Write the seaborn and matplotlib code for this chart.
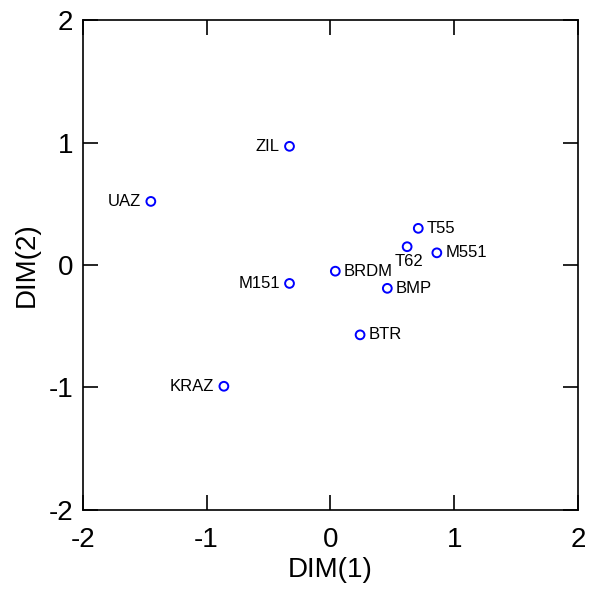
import matplotlib
matplotlib.use('Agg')
import matplotlib.pyplot as plt
import seaborn as sns
import pandas as pd

# 차량 좌표 (DIM1, DIM2)
names = ['ZIL', 'UAZ', 'T55', 'T62', 'M551', 'BRDM', 'M151', 'BMP', 'BTR', 'KRAZ']
dim1 = [-0.33, -1.45, 0.71, 0.62, 0.86, 0.04, -0.33, 0.46, 0.24, -0.86]
dim2 = [0.97, 0.52, 0.30, 0.15, 0.10, -0.05, -0.15, -0.19, -0.57, -0.99]
# 라벨 위치: r=오른쪽, l=왼쪽, b=아래
side = ['l', 'l', 'r', 'b', 'r', 'r', 'l', 'r', 'r', 'l']

ticks = [-2, -1, 0, 1, 2]

df = pd.DataFrame({'name': names, 'DIM(1)': dim1, 'DIM(2)': dim2, 'side': side})

sns.set_style('white')
plt.rcParams['font.family'] = ['Liberation Sans', 'DejaVu Sans']
plt.rcParams['text.color'] = 'black'
plt.rcParams['axes.labelcolor'] = 'black'
plt.rcParams['xtick.color'] = 'black'
plt.rcParams['ytick.color'] = 'black'

fig = plt.figure(figsize=(5.91, 5.95), dpi=100)
ax = fig.add_axes([0.14, 0.143, 0.838, 0.823])

sns.scatterplot(data=df, x='DIM(1)', y='DIM(2)', ax=ax, marker='o',
                facecolor='none', edgecolor='#0000ff', linewidth=1.4, s=40)

for _, r in df.iterrows():
    if r['side'] == 'r':
        off, ha, va = (6, 0), 'left', 'center'
    elif r['side'] == 'l':
        off, ha, va = (-7, 0), 'right', 'center'
    else:
        off, ha, va = (1, -5), 'center', 'top'
    ax.annotate(r['name'], (r['DIM(1)'], r['DIM(2)']), xytext=off,
                textcoords='offset points', ha=ha, va=va, fontsize=12, color='black')

ax.set_xlim(-2, 2)
ax.set_ylim(-2, 2)
ax.set_xticks(ticks)
ax.set_yticks(ticks)
ax.set_xticklabels([str(t) for t in ticks])
ax.set_yticklabels([str(t) for t in ticks])
ax.tick_params(direction='in', length=11, width=1.2, labelsize=20, pad=7,
               top=True, right=True, bottom=True, left=True)
ax.tick_params(axis='x', pad=12)
ax.set_xlabel('DIM(1)', fontsize=20, labelpad=3)
ax.set_ylabel('DIM(2)', fontsize=20, labelpad=6)
for s in ax.spines.values():
    s.set_linewidth(1.2)
    s.set_color('black')

fig.savefig('out.png', dpi=100)
